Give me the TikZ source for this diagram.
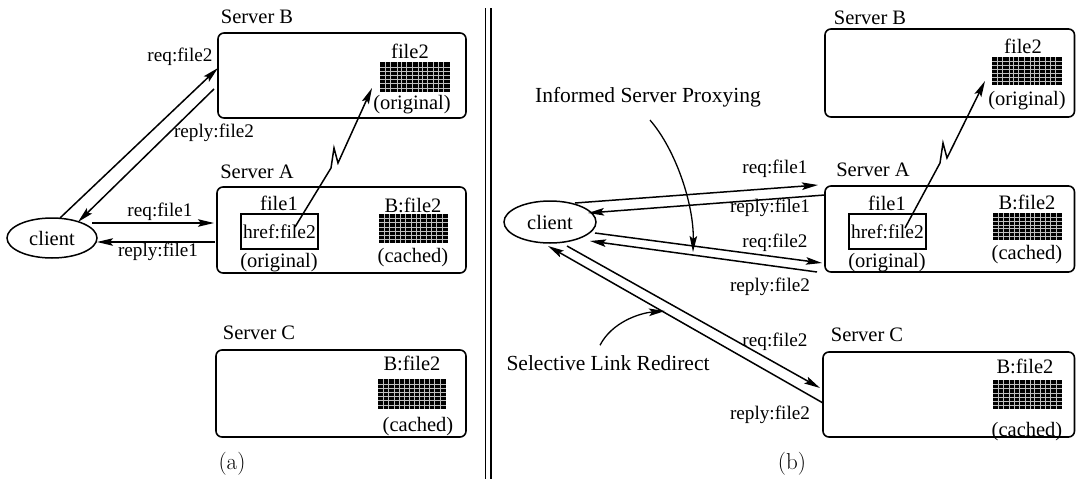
\documentclass[tikz,border=0pt]{standalone}
\usepackage{fontspec}
\newfontfamily\tm{Liberation Serif}
\usetikzlibrary{shapes.geometric,arrows.meta,calc}
\newcommand{\gicon}[5]{\node[gridic, minimum width=#4pt, minimum height=#5pt] (#1) at (#2,#3) {};}
\tikzset{
  txt/.style={inner sep=0pt, font=\tm\fontsize{20.5}{24}\selectfont},
  lbl/.style={inner sep=0pt, font=\tm\fontsize{19.2}{22}\selectfont},
  note/.style={inner sep=0pt, font=\tm\fontsize{21.5}{25}\selectfont},
  panelcap/.style={inner sep=0pt, font=\rmfamily\fontsize{23}{26}\selectfont},
  srv/.style={draw, line width=1.6pt, rounded corners=6pt, anchor=north west, inner sep=0pt, outer sep=0pt},
  hrefbox/.style={draw, line width=1.4pt, inner sep=0pt, outer sep=0pt, font=\tm\fontsize{19.5}{22}\selectfont},
  clientnode/.style={draw, ellipse, line width=1.5pt, inner sep=0pt, font=\tm\fontsize{20.5}{24}\selectfont},
  conn/.style={line width=1.5pt, -{Stealth[length=16pt,width=7.5pt,inset=3pt]}},
  sepline/.style={line width=1.5pt},
  gridic/.style={fill=black, inner sep=0pt, outer sep=0pt, anchor=north west,
    path picture={
      \foreach \f in {0.07,0.15,0.24,0.31,0.38,0.46,0.54,0.6,0.68,0.76,0.83,0.91}
        \draw[white!75!black, line width=0.45pt] ($(path picture bounding box.south west)!\f!(path picture bounding box.south east)$) -- ($(path picture bounding box.north west)!\f!(path picture bounding box.north east)$);
      \foreach \f in {0.14,0.28,0.42,0.56,0.7,0.84}
        \draw[white!75!black, line width=0.45pt] ($(path picture bounding box.south west)!\f!(path picture bounding box.north west)$) -- ($(path picture bounding box.south east)!\f!(path picture bounding box.north east)$);
    }}
}
\begin{document}
\begin{tikzpicture}[x=1pt,y=-1pt]
\useasboundingbox (0,0) rectangle (1076,479);

% ---------------- panel (a) ----------------
\node[srv, minimum width=248pt, minimum height=85pt] (lB) at (218,33) {};
\node[srv, minimum width=249pt, minimum height=86pt] (lA) at (217,187) {};
\node[srv, minimum width=250pt, minimum height=87pt] (lC) at (216,350) {};
\node[txt] (lBt) at (257,17) {Server B};
\node[txt] (lAt) at (257,172) {Server A};
\node[txt] (lCt) at (259,333) {Server C};

% server B content
\node[txt] (lBf) at (410,51) {file2};
\gicon{gLB}{380}{62}{70}{30}
\node[txt] (lBo) at (412,105) {(original)};
% server A content
\node[txt] (lAf) at (279,203) {file1};
\node[hrefbox, minimum width=77pt, minimum height=35pt] (hl) at (279.5,231.5) {href:file2};
\node[txt] (lAo) at (279,263) {(original)};
\node[txt] (lAb) at (413,205) {B:file2};
\gicon{gLA}{379}{214}{69}{29}
\node[txt] (lAc) at (413,258) {(cached)};
% server C content
\node[txt] (lCb) at (412,363) {B:file2};
\gicon{gLC}{378}{379}{68}{30}
\node[txt] (lCc) at (418,427) {(cached)};

\node[clientnode, minimum width=90pt, minimum height=40pt] (cl1) at (52,238) {client};

\draw[conn] ($(cl1.center)+(8,-20)$) -- ($(lB.west)+(0,-7.5)$);
\draw[conn] ($(lB.west)+(-4,13.5)$) -- ($(cl1.center)+(26,-16)$);
\draw[conn] ($(cl1.center)+(40,-15)$) -- ($(lA.west)+(-3,-7)$);
\draw[conn] ($(lA.west)+(-2,12)$) -- ($(cl1.center)+(45,4)$);
\node[lbl] (l1) at (180,57) {req:file2};
\node[lbl] (l2) at (214,133) {reply:file2};
\node[lbl] (l3) at (160,212) {req:file1};
\node[lbl] (l4) at (158,252) {reply:file1};

\draw[conn] ($(hl.center)+(15.5,-4.5)$) -- (331,168) -- (334,148) -- (338,163) -- ($(gLB.south west)+(-8,-4)$);

\node[panelcap] (capa) at (232,464) {(a)};

% separator
\draw[sepline] (485.5,8) -- (485.5,479);
\draw[sepline] (491,8) -- (491,479);

% ---------------- panel (b) ----------------
\node[srv, minimum width=249.5pt, minimum height=88pt] (rB) at (825,29) {};
\node[srv, minimum width=249.5pt, minimum height=86pt] (rA) at (825,186) {};
\node[srv, minimum width=251.5pt, minimum height=85pt] (rC) at (823,352) {};
\node[txt] (rBt) at (870,18) {Server B};
\node[txt] (rAt) at (873,170) {Server A};
\node[txt] (rCt) at (867,335) {Server C};

\node[txt] (rBf) at (1023,46) {file2};
\gicon{gRB}{992}{57}{70}{28}
\node[txt] (rBo) at (1027,101) {(original)};

\node[txt] (rAf) at (887,203) {file1};
\node[hrefbox, minimum width=77pt, minimum height=35pt] (hr) at (887.5,231.5) {href:file2};
\node[txt] (rAo) at (887,263) {(original)};
\node[txt] (rAb) at (1027,202) {B:file2};
\gicon{gRA}{993}{213}{69}{27}
\node[txt] (rAc) at (1027,255) {(cached)};

\node[txt] (rCb) at (1025,366) {B:file2};
\gicon{gRC}{993}{380}{69}{29}
\node[txt] (rCc) at (1027,432) {(cached)};

\node[clientnode, minimum width=92pt, minimum height=42pt] (cl2) at (550,222) {client};

\draw[conn] ($(cl2.center)+(25,-19)$) -- ($(rA.west)+(-7,-44)$);
\draw[conn] ($(rA.west)+(0,-34)$) -- ($(cl2.center)+(38,-9)$);
\draw[conn] ($(cl2.center)+(45,11)$) -- ($(rA.west)+(-3,34)$);
\draw[conn] ($(rA.west)+(-8,43)$) -- ($(cl2.center)+(40,19)$);
\draw[conn] ($(cl2.center)+(17,24)$) -- ($(rC.west)+(-3,-6.5)$);
\draw[conn] ($(rC.west)+(0,8.5)$) -- ($(cl2.center)+(-2,24)$);

\node[lbl] (r1) at (775,169) {req:file1};
\node[lbl] (r2) at (770,208) {reply:file1};
\node[lbl] (r3) at (775,243) {req:file2};
\node[lbl] (r4) at (770,287) {reply:file2};
\node[lbl] (r5) at (775,342) {req:file2};
\node[lbl] (r6) at (770,415) {reply:file2};

\draw[conn] ($(hr.center)+(17.5,-3.5)$) -- (940,163) -- (943,143) -- (947,158) -- ($(gRB.south west)+(-7,-4)$);

\node[note] (inf) at (648,97) {Informed Server Proxying};
\coordinate (infTip) at (693,252);
\draw[conn, line width=1.3pt] ($(inf.south)+(2,13)$) .. controls (676,150) and (694,205) .. (infTip);

\node[note] (sel) at (608,363) {Selective Link Redirect};
\coordinate (selTip) at (665,311);
\draw[conn, line width=1.3pt] ($(sel.north)+(-8,-10)$) .. controls (612,322) and (640,313) .. (selTip);

\node[panelcap] (capb) at (792,464) {(b)};
\end{tikzpicture}
\end{document}
